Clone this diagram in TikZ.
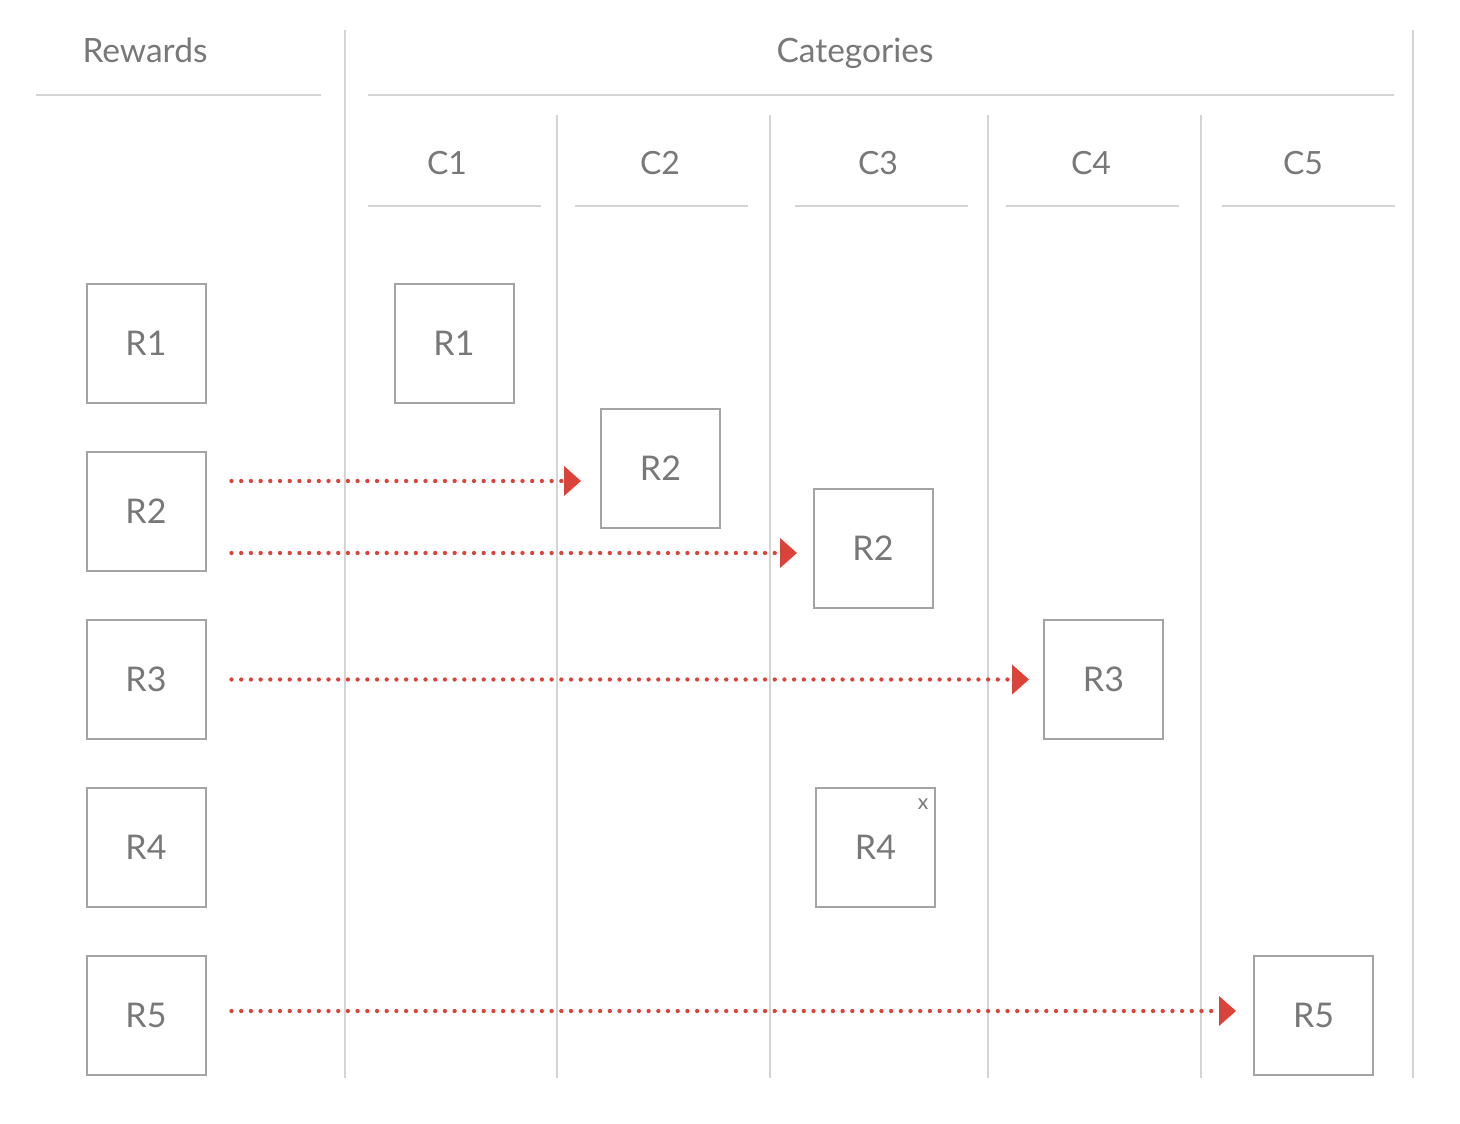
\documentclass[tikz,border=0pt]{standalone}
\usepackage{fontspec}
\setmainfont{Lato}
\usetikzlibrary{arrows.meta}
\definecolor{txt}{HTML}{787878}
\definecolor{boxc}{HTML}{A4A4A4}
\definecolor{rulec}{HTML}{D4D4D4}
\definecolor{arrc}{HTML}{D9433A}
\begin{document}
\begin{tikzpicture}[x=1pt,y=-1pt,
  rulel/.style={draw=rulec,line width=2pt},
  rbox/.style={draw=boxc,line width=2pt,minimum width=119pt,minimum height=119pt,inner sep=0pt,text=txt,font=\fontsize{34}{40}\selectfont},
  head/.style={text=txt,anchor=base,inner sep=0pt,font=\fontsize{33.5}{40}\selectfont},
  chead/.style={text=txt,anchor=base,inner sep=0pt,font=\fontsize{32}{38}\selectfont},
  xmark/.style={text=txt,inner sep=0pt,font=\fontsize{21}{25}\selectfont},
  link/.style={draw=arrc,line width=4.3pt,line cap=round,dash pattern=on 0pt off 9.7pt,-{Triangle[length=17pt,width=29pt,fill=arrc]}}]
\useasboundingbox (0,0) rectangle (1460,1124);
% vertical rules
\draw[rulel] (345,30) -- (345,1078);
\draw[rulel] (557,115) -- (557,1078);
\draw[rulel] (770,115) -- (770,1078);
\draw[rulel] (988,115) -- (988,1078);
\draw[rulel] (1201,115) -- (1201,1078);
\draw[rulel] (1413,30) -- (1413,1078);
% horizontal rules
\draw[rulel] (36,95) -- (321,95);
\draw[rulel] (368,95) -- (1394,95);
\draw[rulel] (368,206) -- (541,206);
\draw[rulel] (575,206) -- (748,206);
\draw[rulel] (795,206) -- (968,206);
\draw[rulel] (1006,206) -- (1179,206);
\draw[rulel] (1222,206) -- (1395,206);
% headings
\node[head] (hr) at (145,63) {Rewards};
\node[head] (hc) at (855,63) {Categories};
\node[chead] (c1) at (447,174) {C1};
\node[chead] (c2) at (660,174) {C2};
\node[chead] (c3) at (878,174) {C3};
\node[chead] (c4) at (1091,174) {C4};
\node[chead] (c5) at (1303,174) {C5};
% reward boxes
\node[rbox] (l1) at (146,343.5) {R1};
\node[rbox] (l2) at (146,511.5) {R2};
\node[rbox] (l3) at (146,679.5) {R3};
\node[rbox] (l4) at (146,847.5) {R4};
\node[rbox] (l5) at (146,1015.5) {R5};
% category boxes
\node[rbox] (k1) at (454,343.5) {R1};
\node[rbox] (k2a) at (660.5,468.5) {R2};
\node[rbox] (k2b) at (873,548.5) {R2};
\node[rbox] (k3) at (1103.5,679.5) {R3};
\node[rbox] (k4) at (875.5,847.5) {R4};
\node[rbox] (k5) at (1313.5,1015.5) {R5};
\node[xmark] (x4) at ([xshift=-13pt,yshift=-17pt]k4.north east) {x};
% arrows
\coordinate (s2a) at ([xshift=25pt,yshift=30.5pt]l2.east);
\coordinate (e2a) at ([xshift=-19pt,yshift=-12.5pt]k2a.west);
\coordinate (s2b) at ([xshift=25pt,yshift=-41.5pt]l2.east);
\coordinate (e2b) at ([xshift=-15.5pt,yshift=-4.5pt]k2b.west);
\coordinate (s3) at ([xshift=25pt]l3.east);
\coordinate (e3) at ([xshift=-14pt]k3.west);
\coordinate (s5) at ([xshift=25pt,yshift=4.5pt]l5.east);
\coordinate (e5) at ([xshift=-17pt,yshift=4.5pt]k5.west);
\draw[link] (s2a) -- (e2a);
\draw[link] (s2b) -- (e2b);
\draw[link] (s3) -- (e3);
\draw[link] (s5) -- (e5);
\end{tikzpicture}
\end{document}
